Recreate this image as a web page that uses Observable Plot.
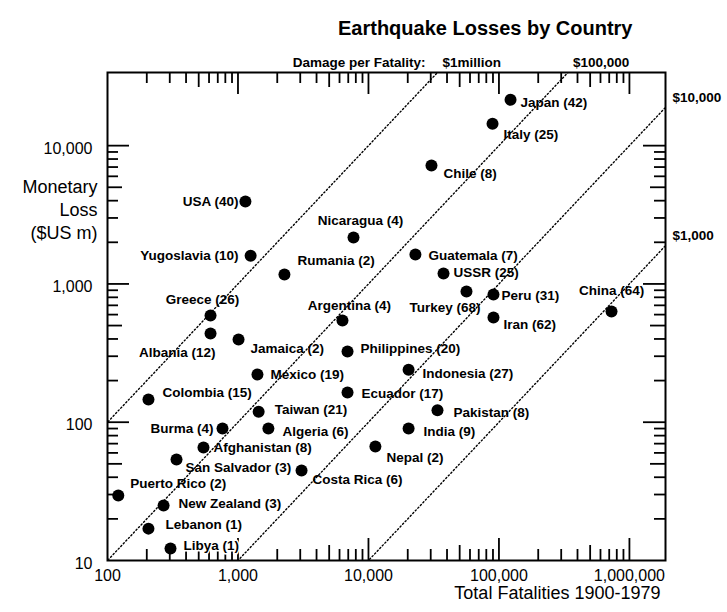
<!DOCTYPE html>
<html><head><meta charset="utf-8">
<script src="https://cdn.jsdelivr.net/npm/d3@7"></script>
<script src="https://cdn.jsdelivr.net/npm/@observablehq/plot@0.6"></script>
<style>body{margin:0;background:#fff;} svg{display:block}</style>
</head><body><div id="chart"></div>
<script>
const countries = ["Japan","Italy","Chile","USA","Nicaragua","Yugoslavia","Rumania","Guatemala","USSR","Turkey","Peru","Iran","China","Greece","Albania","Jamaica","Argentina","Philippines","Mexico","Indonesia","Colombia","Ecuador","Taiwan","Pakistan","Burma","Algeria","India","Afghanistan","Nepal","San Salvador","Costa Rica","Puerto Rico","New Zealand","Lebanon","Libya"];
const events = [42,25,8,40,4,10,2,7,25,68,31,62,64,26,12,2,4,20,19,27,15,17,21,8,4,6,9,8,2,3,6,2,3,1,1];
const fatalities = [122700,89300,30400,1140,7680,1250,2270,22900,37600,56400,90800,90800,729000,616,616,1010,6320,6910,1410,20300,206,6910,1440,33800,761,1710,20300,544,11300,338,3070,121,269,206,304];
const losses = [21500,14400,7180,3950,2165,1600,1170,1630,1190,881,838,571,631,591,438,396,544,324,221,240,146,164,119,122,90,90,90,65.6,66.7,53.7,44.7,29.5,25,17,12.2];

const xTickValues = [100, 1000, 10000, 100000, 1000000];
const yTickValues = [10, 100, 1000, 10000];
const damageRatios = [1, 0.1, 0.01, 0.001]; // $US m per fatality
const damageLabels = ["$1million", "$100,000", "$10,000", "$1,000"];
const xDomain = [100, 1890000];
const yDomain = [10, 33800];
const title = "Earthquake Losses by Country";
const damageTitle = "Damage per Fatality:";
const xLabel = "Total Fatalities 1900-1979";
const yLabel = "Monetary\nLoss\n($US m)";

// label placement: [dx, dy, textAnchor]
const labelPlacement = {
 "Japan": [10, 3, "start"], "Italy": [11, 11, "start"], "Chile": [12, 8, "start"],
 "USA": [-7, 0, "end"], "Nicaragua": [7, -17, "middle"], "Yugoslavia": [-12, 0, "end"],
 "Rumania": [13, -14, "start"], "Guatemala": [13, 1, "start"], "USSR": [10, -1, "start"],
 "Turkey": [14, 16, "end"], "Peru": [8, 1, "start"], "Iran": [10, 7, "start"],
 "China": [0, -21, "middle"], "Greece": [-8, -16, "middle"], "Albania": [5, 19, "end"],
 "Jamaica": [12, 9, "start"], "Argentina": [7, -15, "middle"], "Philippines": [13, -3, "start"],
 "Mexico": [13, 0, "start"], "Indonesia": [14, 4, "start"], "Colombia": [14, -7, "start"],
 "Ecuador": [14, 1, "start"], "Taiwan": [16, -2, "start"], "Pakistan": [16, 2, "start"],
 "Burma": [-9, 0, "end"], "Algeria": [14, 3, "start"], "India": [15, 3, "start"],
 "Afghanistan": [10, 0, "start"], "Nepal": [11, 11, "start"], "San Salvador": [9, 8, "start"],
 "Costa Rica": [11, 9, "start"], "Puerto Rico": [12, -12, "start"], "New Zealand": [15, -2, "start"],
 "Lebanon": [17, -4, "start"], "Libya": [13, -3, "start"]
};

const W = 727, H = 612, mt = 72, mr = 62, mb = 52, ml = 107;
const fw = W - ml - mr, fh = H - mt - mb;
const font = "'Liberation Sans', Arial, Helvetica, sans-serif";

const data = countries.map((c, i) => ({name: c, n: events[i], x: fatalities[i], y: losses[i]}));

function logTicks(lo, hi) {
  const out = [];
  for (let e = Math.floor(Math.log10(lo)); Math.pow(10, e) <= hi; e++)
    for (let k = 1; k <= 9; k++) {
      const v = k * Math.pow(10, e);
      if (v > lo && v <= hi) out.push({v, k});
    }
  return out;
}
const xt = logTicks(xDomain[0], xDomain[1]);
const yt = logTicks(yDomain[0], yTickValues[yTickValues.length - 1]);
const LEN = {1: 22, 5: 15};
const len = k => LEN[k] || 11;
const groups = arr => [1, 5, 2].map(kind => ({kind, vals: arr.filter(d => kind === 2 ? (d.k !== 1 && d.k !== 5) : d.k === kind)}));

const tickMarks = [];
for (const g of groups(xt)) {
  const L = len(g.kind);
  tickMarks.push(Plot.tickX(g.vals, {x: "v", insetTop: fh - L, strokeWidth: 1.8}));
  tickMarks.push(Plot.tickX(g.vals, {x: "v", insetBottom: fh - L, strokeWidth: 1.8}));
}
for (const g of groups(yt)) {
  const L = len(g.kind);
  tickMarks.push(Plot.tickY(g.vals, {y: "v", insetRight: fw - L, strokeWidth: 1.8}));
  tickMarks.push(Plot.tickY(g.vals, {y: "v", insetLeft: fw - L, strokeWidth: 1.8}));
}

const lineData = damageRatios.flatMap(r => [{r, x: 1, y: r}, {r, x: 1e8, y: r * 1e8}]);
const topLabels = damageRatios.slice(0, 2).map((r, i) => ({x: yDomain[1] / r, t: damageLabels[i]}));
const rightLabels = damageRatios.slice(2).map((r, i) => ({y: xDomain[1] * r, t: damageLabels[i + 2]}));

const labelMarks = data.map(d => {
  const [dx, dy, anchor] = labelPlacement[d.name];
  return Plot.text([d], {x: "x", y: "y", text: d => `${d.name} (${d.n})`, dx, dy, textAnchor: anchor,
    fontSize: 13.5, fontWeight: "bold", stroke: "white", strokeWidth: 3, fill: "black"});
});

const chart = Plot.plot({
  width: W, height: H,
  marginTop: mt, marginRight: mr, marginBottom: mb, marginLeft: ml,
  style: {fontFamily: font, background: "white", color: "black", overflow: "visible"},
  x: {type: "log", domain: xDomain, axis: null},
  y: {type: "log", domain: yDomain, axis: null},
  marks: [
    ...tickMarks,
    ...labelMarks,
    Plot.frame({stroke: "black", strokeWidth: 2}),
    Plot.line(lineData, {x: "x", y: "y", z: "r", clip: true, stroke: "black", strokeWidth: 1.4, strokeDasharray: "1.3,2.4"}),
    Plot.dot(data, {x: "x", y: "y", r: 6, fill: "black"}),
    // axis tick labels
    Plot.text(xTickValues, {x: d => d, frameAnchor: "bottom", dy: 20, text: d => d3.format(",")(d), fontSize: 16}),
    Plot.text(yTickValues, {y: d => d, frameAnchor: "left", dx: -15, dy: 3, textAnchor: "end", text: d => d3.format(",")(d), fontSize: 16}),
    // axis titles
    Plot.text([xLabel], {frameAnchor: "bottom-right", dx: -5, dy: 38, textAnchor: "end", text: d => d, fontSize: 18}),
    Plot.text([yLabel], {frameAnchor: "top-left", dx: -10, dy: 136, textAnchor: "end", lineAnchor: "middle", lineHeight: 1.3, text: d => d, fontSize: 18}),
    // title
    Plot.text([title], {frameAnchor: "top-right", dx: -33, dy: -52, textAnchor: "end", text: d => d, fontSize: 20, fontWeight: "bold"}),
    // damage per fatality labels
    Plot.text([damageTitle], {x: () => yDomain[1] / damageRatios[0], frameAnchor: "top", dx: -12, dy: -15, textAnchor: "end", text: d => d, fontSize: 13.5, fontWeight: "bold"}),
    Plot.text(topLabels, {x: "x", frameAnchor: "top", dx: 5, dy: -15, textAnchor: "start", text: "t", fontSize: 13.5, fontWeight: "bold"}),
    Plot.text(rightLabels, {y: "y", frameAnchor: "right", dx: 7, dy: -10, textAnchor: "start", text: "t", fontSize: 13.5, fontWeight: "bold"})
  ]
});
document.getElementById("chart").appendChild(chart);
</script>
</body></html>
